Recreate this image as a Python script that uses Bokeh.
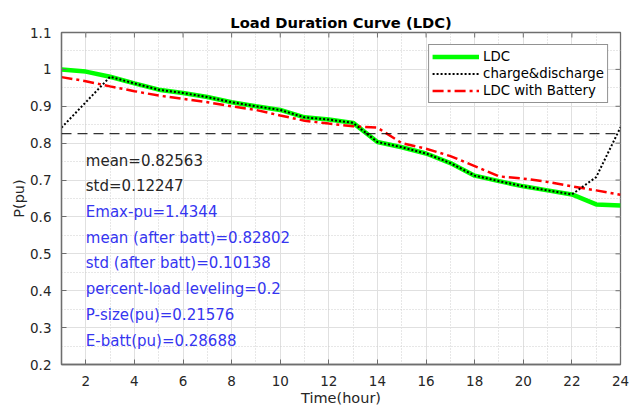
import math
from bokeh.plotting import figure
from bokeh.models import (FixedTicker, Range1d, Span, Legend, LegendItem,
                          ColumnDataSource)
from bokeh.core.properties import value
from bokeh.embed import file_html
from bokeh.resources import INLINE

# ---------------- data ----------------
hours = list(range(1, 25))
ldc = [1.000, 0.994, 0.980, 0.962, 0.945, 0.936, 0.925, 0.911, 0.900, 0.890, 0.870, 0.864,
       0.855, 0.803, 0.789, 0.772, 0.746, 0.712, 0.697, 0.683, 0.672, 0.661, 0.634, 0.631]
charge_discharge = [0.842, 0.911, 0.980, 0.962, 0.945, 0.936, 0.925, 0.911, 0.900, 0.890, 0.870, 0.864,
                    0.855, 0.803, 0.789, 0.772, 0.746, 0.712, 0.697, 0.683, 0.672, 0.661, 0.708, 0.843]
ldc_batt = [0.979, 0.968, 0.954, 0.941, 0.929, 0.920, 0.911, 0.900, 0.890, 0.875, 0.861, 0.853,
            0.846, 0.842, 0.800, 0.785, 0.765, 0.738, 0.710, 0.704, 0.695, 0.683, 0.672, 0.660]

mean_ldc = 0.82563
std_ldc = 0.12247
emax_pu = 1.4344
mean_after = 0.82802
std_after = 0.10138
pct_leveling = 0.2
p_size = 0.21576
e_batt = 0.28688

x_ticks = [2, 4, 6, 8, 10, 12, 14, 16, 18, 20, 22, 24]
x_minor = [1, 3, 5, 7, 9, 11, 13, 15, 17, 19, 21, 23]
y_ticks = [0.2, 0.3, 0.4, 0.5, 0.6, 0.7, 0.8, 0.9, 1.0, 1.1]
y_minor = [0.25, 0.35, 0.45, 0.55, 0.65, 0.75, 0.85, 0.95, 1.05]
y_tick_labels = {0.2: "0.2", 0.3: "0.3", 0.4: "0.4", 0.5: "0.5", 0.6: "0.6", 0.7: "0.7",
                 0.8: "0.8", 0.9: "0.9", 1.0: "1", 1.1: "1.1"}

title_text = "Load Duration Curve (LDC)"
x_label = "Time(hour)"
y_label = "P(pu)"
ann_texts_black = [f"mean={mean_ldc}", f"std={std_ldc}"]
ann_texts_blue = [f"Emax-pu={emax_pu}", f"mean (after batt)={mean_after}",
                  f"std (after batt)={std_after}", f"percent-load leveling={pct_leveling}",
                  f"P-size(pu)={p_size}", f"E-batt(pu)={e_batt}"]

# ---------------- layout ----------------
FONT = "DejaVu Sans"
AX = "#6e6e6e"
TXT = "#262626"
X0, X1 = 1, 24
Y0, Y1 = 0.2, 1.1

p = figure(width=630, height=408, x_range=Range1d(X0, X1), y_range=Range1d(Y0, Y1),
           output_backend="svg", toolbar_location=None, title=title_text,
           min_border_left=61, min_border_right=10, min_border_top=32, min_border_bottom=44)
p.background_fill_color = "white"
p.border_fill_color = "white"
p.outline_line_color = AX
p.outline_line_width = 1.3

p.title.align = "center"
p.title.text_font = FONT
p.title.text_font_size = "14.7px"
p.title.text_font_style = "bold"
p.title.text_color = "black"
p.title.standoff = 4

xt = FixedTicker(ticks=x_ticks, minor_ticks=x_minor)
yt = FixedTicker(ticks=y_ticks, minor_ticks=y_minor)

for ax in (p.xaxis[0], p.yaxis[0]):
    ax.axis_line_color = AX
    ax.axis_line_width = 1.3
    ax.major_tick_line_color = AX
    ax.major_tick_in = 5
    ax.major_tick_out = 0
    ax.minor_tick_line_color = None
    ax.major_label_text_font = FONT
    ax.major_label_text_font_size = "13.5px"
    ax.major_label_text_color = TXT
    ax.axis_label_text_font = FONT
    ax.axis_label_text_font_size = "14.5px"
    ax.axis_label_text_font_style = "normal"
    ax.axis_label_text_color = TXT

p.xaxis.ticker = xt
p.yaxis.ticker = yt
p.yaxis.major_label_overrides = y_tick_labels
p.xaxis.axis_label = x_label
p.yaxis.axis_label = y_label
p.xaxis.major_label_standoff = 7
p.xaxis.axis_label_standoff = 1
p.yaxis.major_label_standoff = 6
p.yaxis.axis_label_standoff = 0

p.xgrid.ticker = xt
p.ygrid.ticker = yt
for g in (p.xgrid[0], p.ygrid[0]):
    g.grid_line_color = "#e0e0e0"
    g.grid_line_width = 1
    g.minor_grid_line_color = "#cfcfcf"
    g.minor_grid_line_dash = "1 2"
    g.minor_grid_line_width = 1

# inward ticks on top and right edges (half of each dash is clipped by the frame)
p.scatter(x=x_ticks, y=[Y1] * len(x_ticks), marker="dash", angle=math.pi / 2, size=10,
          line_color=AX, line_width=1)
p.scatter(x=[X1] * len(y_ticks), y=y_ticks, marker="dash", size=10,
          line_color=AX, line_width=1)

src = ColumnDataSource(dict(h=hours, ldc=ldc, cd=charge_discharge, lb=ldc_batt))

r_ldc = p.line("h", "ldc", source=src, line_color="#00ff00", line_width=4.5)
r_lb = p.line("h", "lb", source=src, line_color="#ff0000", line_width=2.5, line_dash="11 4 3 4")
r_cd = p.line("h", "cd", source=src, line_color="black", line_width=2, line_dash="2 2")

p.add_layout(Span(location=mean_ldc, dimension="width", line_color="black",
                  line_width=1, line_dash="10 6"))

ann_x = 2
ann_y = [0.753, 0.684, 0.614, 0.544, 0.474, 0.404, 0.334, 0.264]
texts = ann_texts_black + ann_texts_blue
colors = [TXT] * len(ann_texts_black) + ["#3535f0"] * len(ann_texts_blue)
tsrc = ColumnDataSource(dict(x=[ann_x] * len(texts), y=ann_y, t=texts, c=colors))
p.text("x", "y", text="t", source=tsrc, text_color="c", text_font=value(FONT),
       text_font_size="15px", text_align="left", text_baseline="middle")

legend = Legend(items=[LegendItem(label="LDC", renderers=[r_ldc]),
                       LegendItem(label="charge&discharge", renderers=[r_cd]),
                       LegendItem(label="LDC with Battery", renderers=[r_lb])],
                location="top_right")
legend.margin = 12
legend.padding = 3
legend.spacing = 0
legend.glyph_width = 47
legend.glyph_height = 17
legend.label_height = 17
legend.label_standoff = 4
legend.label_text_font = FONT
legend.label_text_font_size = "13.3px"
legend.label_text_color = "black"
legend.border_line_color = TXT
legend.border_line_width = 1
legend.background_fill_color = "white"
legend.background_fill_alpha = 1
p.add_layout(legend)

open("out.html", "w").write(file_html(p, INLINE))
